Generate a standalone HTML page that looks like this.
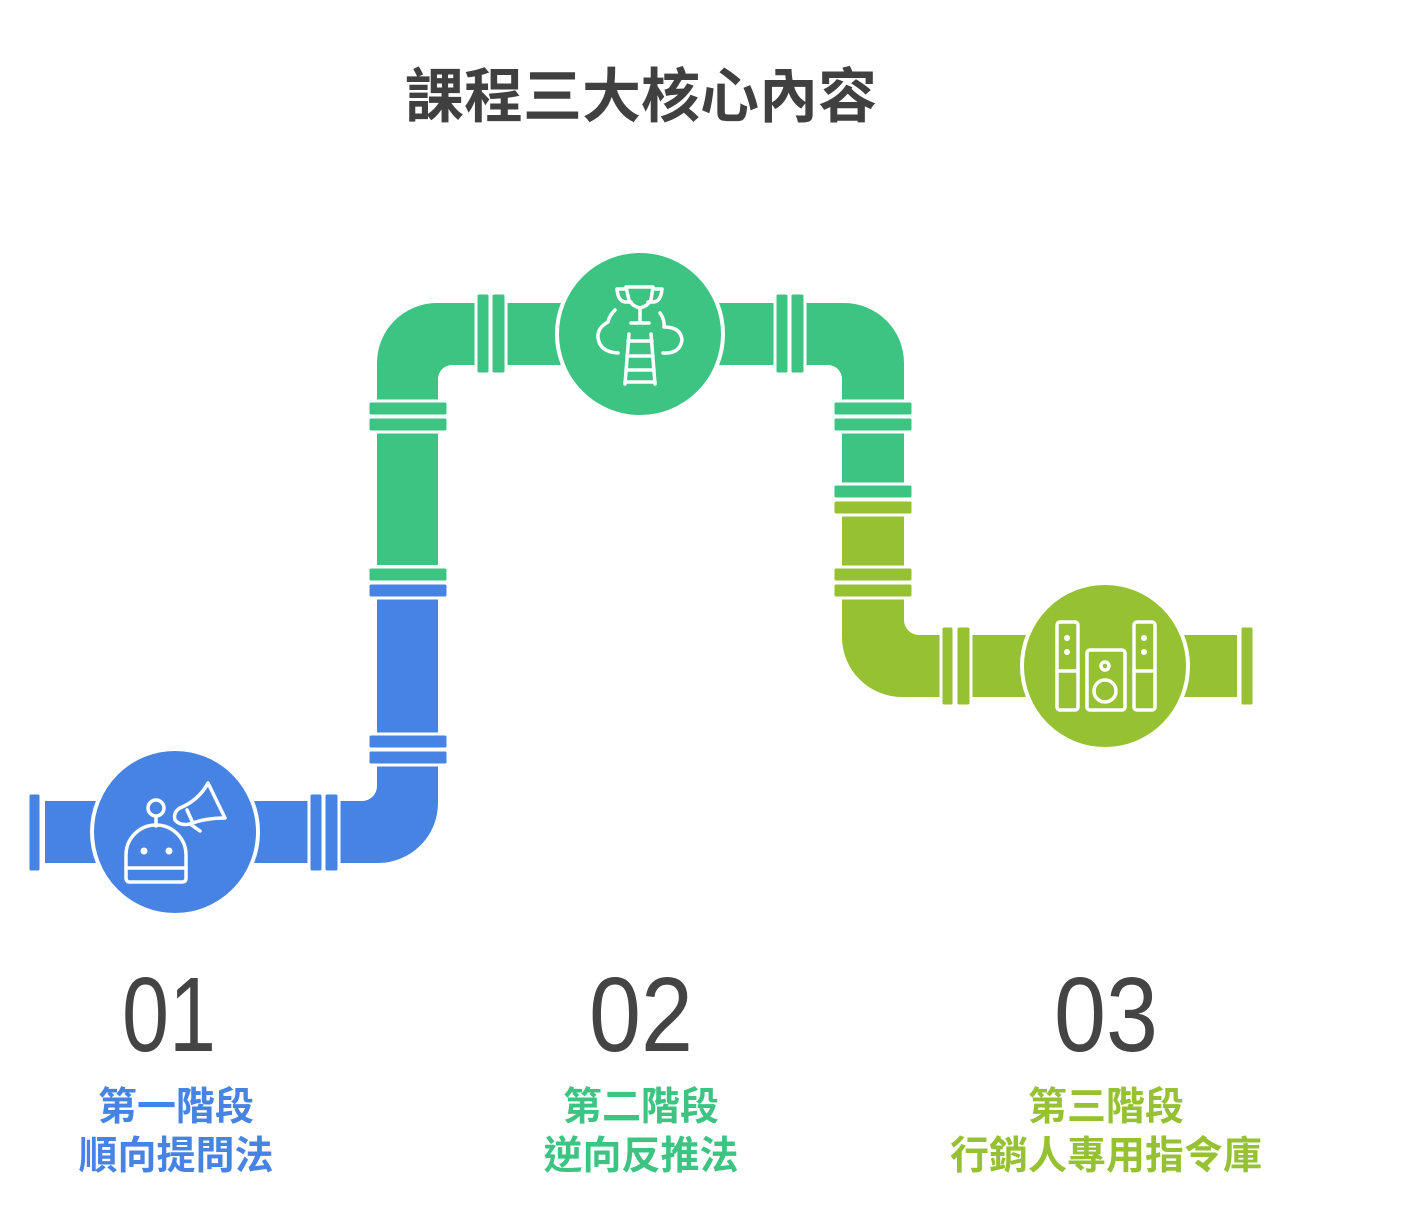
<!DOCTYPE html>
<html><head><meta charset="utf-8"><style>
html,body{margin:0;padding:0;background:#fff;}
svg{display:block;}
text{font-family:"Liberation Sans","Noto Sans CJK TC",sans-serif;}
</style></head><body>
<svg width="1418" height="1216" viewBox="0 0 1418 1216" xmlns="http://www.w3.org/2000/svg">
<text x="641" y="117" text-anchor="middle" font-size="59" font-weight="bold" fill="#404040">課程三大核心內容</text>

<!-- pipes -->
<path d="M377,565 V363 A60,60 0 0 1 437,303 H844 A60,60 0 0 1 904,363 V490 H842 V379 A14,14 0 0 0 828,365 H452 A14,14 0 0 0 438,379 V565 Z" fill="#3DC483"/>
<path d="M377,590 V786 A15,15 0 0 1 362,801 H45 V863 H378 A60,60 0 0 0 438,803 V590 Z" fill="#4683E3"/>
<path d="M842,505 H904 V620 A15,15 0 0 0 919,635 H1237 V697 H902 A60,60 0 0 1 842,637 Z" fill="#95C132"/>

<g stroke="#fff" stroke-width="3">
<g fill="#4683E3">
<rect x="28" y="793" width="13" height="79" rx="3"/>
<rect x="309" y="793" width="14" height="79" rx="3"/>
<rect x="324" y="793" width="15" height="79" rx="3"/>
<rect x="368" y="734" width="80" height="15" rx="3"/>
<rect x="368" y="750" width="80" height="15" rx="3"/>
<rect x="368" y="583" width="80" height="15" rx="3"/>
</g>
<g fill="#3DC483">
<rect x="368" y="567" width="80" height="15" rx="3"/>
<rect x="368" y="401" width="80" height="15" rx="3"/>
<rect x="368" y="417" width="80" height="15" rx="3"/>
<rect x="476" y="293" width="14" height="81" rx="3"/>
<rect x="491" y="293" width="15" height="81" rx="3"/>
<rect x="775" y="293" width="14" height="81" rx="3"/>
<rect x="790" y="293" width="15" height="81" rx="3"/>
<rect x="833" y="401" width="80" height="15" rx="3"/>
<rect x="833" y="417" width="80" height="15" rx="3"/>
<rect x="833" y="484" width="80" height="15" rx="3"/>
</g>
<g fill="#95C132">
<rect x="833" y="500" width="80" height="15" rx="3"/>
<rect x="833" y="567" width="80" height="15" rx="3"/>
<rect x="833" y="583" width="80" height="15" rx="3"/>
<rect x="941" y="626" width="13" height="80" rx="3"/>
<rect x="956" y="626" width="15" height="80" rx="3"/>
<rect x="1240" y="626" width="14" height="80" rx="3"/>
</g>
<circle cx="175" cy="832" r="83" fill="#4683E3" stroke-width="4"/>
<circle cx="640" cy="334" r="83" fill="#3DC483" stroke-width="4"/>
<circle cx="1105" cy="666" r="83" fill="#95C132" stroke-width="4"/>
</g>

<g fill="none" stroke="#fff" stroke-width="3.5" stroke-linecap="round" stroke-linejoin="round">
<circle cx="156" cy="808" r="8"/>
<line x1="156" y1="816" x2="156" y2="826"/>
<path d="M126,878 V855 A30,30 0 0 1 186,855 V878 Q186,882 182,882 H130 Q126,882 126,878 Z"/>
<line x1="126" y1="868" x2="186" y2="868"/>
<path d="M180,808 Q199,800 208,783 L225,818 Q205,818 190,824"/>
<path d="M180,808 Q173,812 175,820 Q180,826 190,824 L200,831"/>
<line x1="187" y1="810" x2="192" y2="821"/>
<path d="M626,287 H653 L651,300 Q648,306 640,308 Q632,306 629,300 Z"/>
<path d="M626,289 H617 Q618,301 625,302 H631"/>
<path d="M653,289 H662 Q661,301 654,302 H648"/>
<line x1="640" y1="308" x2="640" y2="322"/>
<line x1="631" y1="323" x2="649" y2="323"/>
<path d="M615,310 Q609,316 608,322 Q597,328 598,338 Q600,352 618,353"/>
<path d="M660,313 Q665,320 664,327 Q681,327 682,340 Q680,354 663,353"/>
<line x1="629" y1="334" x2="625" y2="384"/>
<line x1="651" y1="334" x2="655" y2="384"/>
<line x1="628" y1="341" x2="652" y2="341"/>
<line x1="627" y1="356" x2="653" y2="356"/>
<line x1="626" y1="370" x2="654" y2="370"/>
<line x1="625" y1="382" x2="655" y2="382"/>
<rect x="1057" y="622" width="21" height="88" rx="3"/>
<line x1="1057" y1="671" x2="1078" y2="671"/>
<rect x="1134" y="622" width="21" height="88" rx="3"/>
<line x1="1134" y1="671" x2="1155" y2="671"/>
<rect x="1087" y="650" width="38" height="60" rx="3"/>
<circle cx="1105" cy="666" r="4"/>
<circle cx="1105" cy="691" r="11"/>
</g>
<g fill="#fff">
<circle cx="144" cy="851" r="3.5"/><circle cx="169" cy="851" r="3.5"/>
<circle cx="1067" cy="638" r="3"/><circle cx="1067" cy="652" r="3"/>
<circle cx="1144" cy="638" r="3"/><circle cx="1144" cy="652" r="3"/>
</g>

<g font-size="106" fill="#444">
<text x="122" y="1051" textLength="94" lengthAdjust="spacingAndGlyphs">01</text>
<text x="589" y="1051" textLength="104" lengthAdjust="spacingAndGlyphs">02</text>
<text x="1054" y="1051" textLength="104" lengthAdjust="spacingAndGlyphs">03</text>
</g>
<g font-size="39" font-weight="bold" text-anchor="middle">
<text x="176" y="1120" fill="#4683E3">第一階段</text>
<text x="176" y="1169" fill="#4683E3">順向提問法</text>
<text x="641" y="1120" fill="#3DC483">第二階段</text>
<text x="641" y="1169" fill="#3DC483">逆向反推法</text>
<text x="1106" y="1120" fill="#95C132">第三階段</text>
<text x="1106" y="1169" fill="#95C132">行銷人專用指令庫</text>
</g>
</svg>
</body></html>
